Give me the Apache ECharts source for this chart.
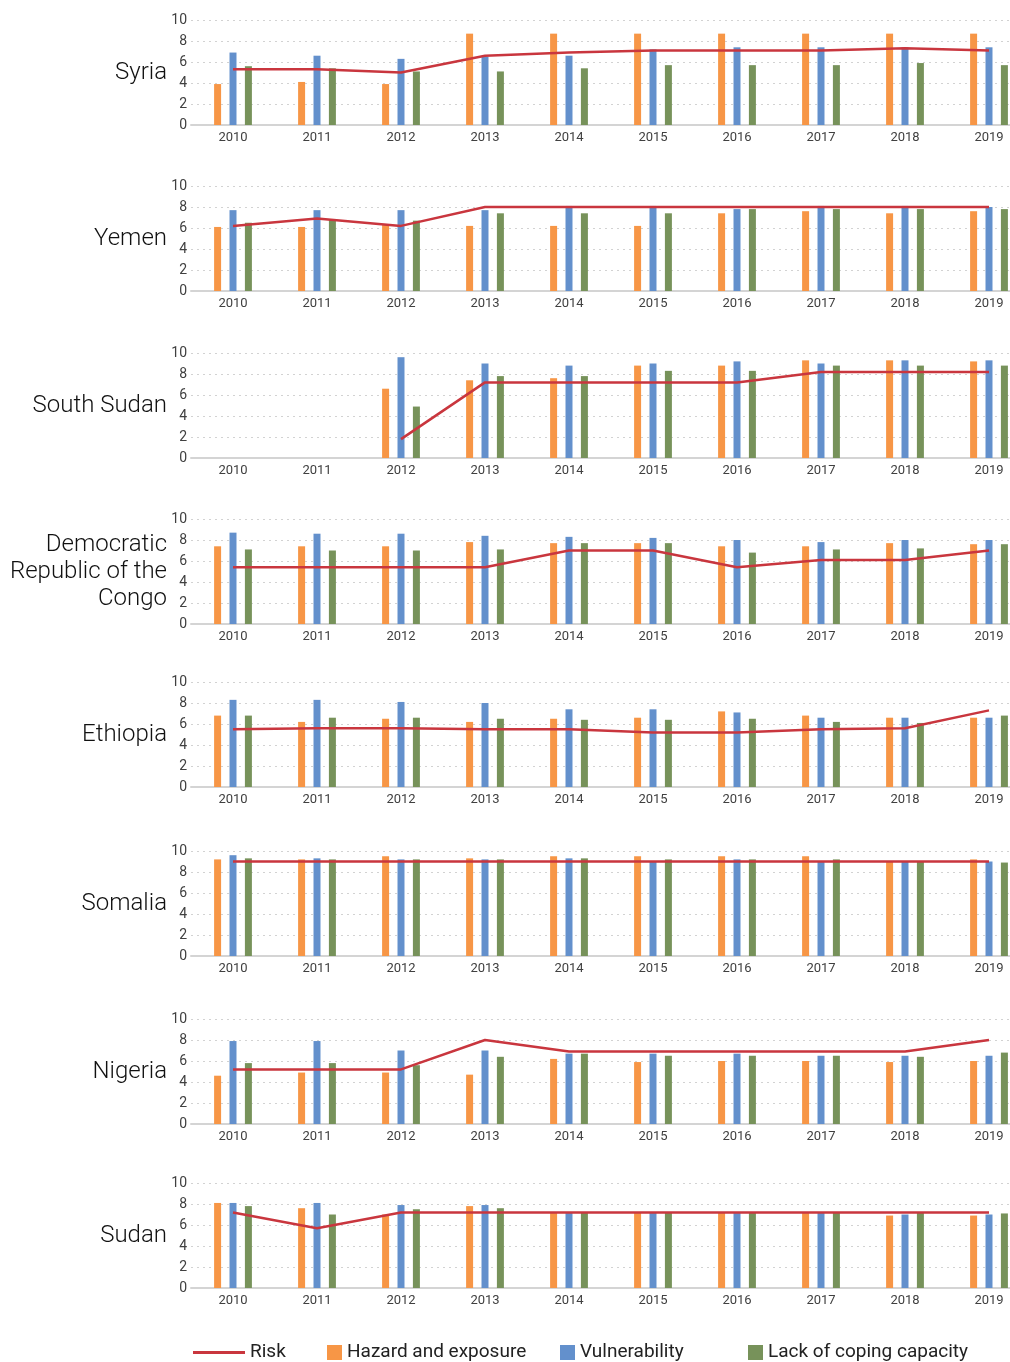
<!DOCTYPE html>
<html>
<head>
<meta charset="utf-8">
<script src="https://cdn.jsdelivr.net/npm/echarts@6/dist/echarts.min.js"></script>
<style>
html,body{margin:0;padding:0;background:#fff;}
#chart{width:1010px;height:1362px;}
</style>
</head>
<body>
<div id="chart"></div>
<script>
const years = ['2010','2011','2012','2013','2014','2015','2016','2017','2018','2019'];
const yTicks = [0, 2, 4, 6, 8, 10];
const countries = ['Syria', 'Yemen', 'South Sudan', 'Democratic\nRepublic of the\nCongo', 'Ethiopia', 'Somalia', 'Nigeria', 'Sudan'];
const seriesNames = ['Risk', 'Hazard and exposure', 'Vulnerability', 'Lack of coping capacity'];

const syriaRisk   = [5.3,5.3,5.0,6.6,6.9,7.1,7.1,7.1,7.3,7.1];
const syriaHazard = [3.9,4.1,3.9,8.7,8.7,8.7,8.7,8.7,8.7,8.7];
const syriaVuln   = [6.9,6.6,6.3,6.5,6.6,7.2,7.4,7.4,7.4,7.4];
const syriaLack   = [5.6,5.4,5.1,5.1,5.4,5.7,5.7,5.7,5.9,5.7];

const yemenRisk   = [6.2,6.9,6.2,8.0,8.0,8.0,8.0,8.0,8.0,8.0];
const yemenHazard = [6.1,6.1,6.3,6.2,6.2,6.2,7.4,7.6,7.4,7.6];
const yemenVuln   = [7.7,7.7,7.7,7.7,8.1,8.1,7.8,8.1,8.1,8.0];
const yemenLack   = [6.5,6.8,6.7,7.4,7.4,7.4,7.8,7.8,7.8,7.8];

const ssudanRisk   = [null,null,1.8,7.2,7.2,7.2,7.2,8.2,8.2,8.2];
const ssudanHazard = [null,null,6.6,7.4,7.6,8.8,8.8,9.3,9.3,9.2];
const ssudanVuln   = [null,null,9.6,9.0,8.8,9.0,9.2,9.0,9.3,9.3];
const ssudanLack   = [null,null,4.9,7.8,7.8,8.3,8.3,8.8,8.8,8.8];

const drcRisk   = [5.4,5.4,5.4,5.4,7.0,7.0,5.4,6.1,6.1,7.0];
const drcHazard = [7.4,7.4,7.4,7.8,7.7,7.7,7.4,7.4,7.7,7.6];
const drcVuln   = [8.7,8.6,8.6,8.4,8.3,8.2,8.0,7.8,8.0,8.0];
const drcLack   = [7.1,7.0,7.0,7.1,7.7,7.7,6.8,7.1,7.2,7.6];

const ethiopiaRisk   = [5.5,5.6,5.6,5.5,5.5,5.2,5.2,5.5,5.6,7.3];
const ethiopiaHazard = [6.8,6.2,6.5,6.2,6.5,6.6,7.2,6.8,6.6,6.6];
const ethiopiaVuln   = [8.3,8.3,8.1,8.0,7.4,7.4,7.1,6.6,6.6,6.6];
const ethiopiaLack   = [6.8,6.6,6.6,6.5,6.4,6.4,6.5,6.2,6.1,6.8];

const somaliaRisk   = [9.0,9.0,9.0,9.0,9.0,9.0,9.0,9.0,9.0,9.0];
const somaliaHazard = [9.2,9.2,9.5,9.3,9.5,9.5,9.5,9.5,9.0,9.2];
const somaliaVuln   = [9.6,9.3,9.2,9.2,9.3,9.0,9.2,9.0,9.0,9.0];
const somaliaLack   = [9.3,9.2,9.2,9.2,9.3,9.2,9.2,9.2,9.0,8.9];

const nigeriaRisk   = [5.2,5.2,5.2,8.0,6.9,6.9,6.9,6.9,6.9,8.0];
const nigeriaHazard = [4.6,4.9,4.9,4.7,6.2,5.9,6.0,6.0,5.9,6.0];
const nigeriaVuln   = [7.9,7.9,7.0,7.0,6.7,6.7,6.7,6.5,6.5,6.5];
const nigeriaLack   = [5.8,5.8,5.6,6.4,6.7,6.5,6.5,6.5,6.4,6.8];

const sudanRisk   = [7.2,5.7,7.2,7.2,7.2,7.2,7.2,7.2,7.2,7.2];
const sudanHazard = [8.1,7.6,7.0,7.8,7.2,7.2,7.2,7.2,6.9,6.9];
const sudanVuln   = [8.1,8.1,7.9,7.9,7.2,7.2,7.2,7.2,7.0,7.0];
const sudanLack   = [7.8,7.0,7.5,7.6,7.2,7.2,7.2,7.2,7.2,7.1];

const panels = [
  [syriaRisk, syriaHazard, syriaVuln, syriaLack],
  [yemenRisk, yemenHazard, yemenVuln, yemenLack],
  [ssudanRisk, ssudanHazard, ssudanVuln, ssudanLack],
  [drcRisk, drcHazard, drcVuln, drcLack],
  [ethiopiaRisk, ethiopiaHazard, ethiopiaVuln, ethiopiaLack],
  [somaliaRisk, somaliaHazard, somaliaVuln, somaliaLack],
  [nigeriaRisk, nigeriaHazard, nigeriaVuln, nigeriaLack],
  [sudanRisk, sudanHazard, sudanVuln, sudanLack]
];

const COLORS = {risk:'#C9363E', hazard:'#F79646', vuln:'#6390CC', lack:'#77925A'};
const gridTops = [20, 186, 353, 519, 682, 851, 1019, 1183];
const gridH = 105;
const FONT = 'Roboto, "Noto Sans", sans-serif';

const grid = [], xAxis = [], yAxis = [], series = [], graphic = [];
panels.forEach((p, i) => {
  grid.push({left: 191, top: gridTops[i], width: 840, height: gridH, containLabel: false, outerBoundsMode: 'none'});
  xAxis.push({
    type: 'category', gridIndex: i, data: years,
    axisTick: {show: false},
    axisLine: {lineStyle: {color: '#d4d4d4', width: 2}},
    axisLabel: {color: '#404040', fontSize: 13, margin: 6, fontFamily: FONT, interval: 0}
  });
  yAxis.push({
    type: 'value', gridIndex: i, min: yTicks[0], max: yTicks[yTicks.length-1], interval: 2,
    axisLine: {show: false}, axisTick: {show: false},
    axisLabel: {color: '#404040', fontSize: 14, margin: 4, fontFamily: FONT},
    splitLine: {lineStyle: {color: '#d2d2d2', type: [2, 4], width: 1}}
  });
  const barCommon = {type: 'bar', xAxisIndex: i, yAxisIndex: i, barWidth: 7, barGap: '120%'};
  series.push(Object.assign({name: seriesNames[1], data: p[1], itemStyle: {color: COLORS.hazard}}, barCommon));
  series.push(Object.assign({name: seriesNames[2], data: p[2], itemStyle: {color: COLORS.vuln}}, barCommon));
  series.push(Object.assign({name: seriesNames[3], data: p[3], itemStyle: {color: COLORS.lack}}, barCommon));
  series.push({
    name: seriesNames[0], type: 'line', xAxisIndex: i, yAxisIndex: i, data: p[0],
    showSymbol: false, symbol: 'none', z: 5,
    lineStyle: {color: COLORS.risk, width: 2.5}, itemStyle: {color: COLORS.risk}
  });
  graphic.push({
    type: 'text', x: 167, y: gridTops[i] + gridH / 2,
    style: {
      text: countries[i], align: 'right', verticalAlign: 'middle',
      fontSize: 24, lineHeight: 27, fontFamily: FONT, fontWeight: 300, fill: '#111'
    }
  });
});

function legendItem(name, left, w, h) {
  return {
    data: [name], left: left, top: 1343, icon: 'rect', itemWidth: w, itemHeight: h,
    selectedMode: false, padding: 0,
    textStyle: {fontSize: 19, color: '#222', fontFamily: FONT}
  };
}

const option = {
  animation: false,
  backgroundColor: '#ffffff',
  grid, xAxis, yAxis, series, graphic,
  legend: [
    legendItem('Risk', 193, 52, 3),
    legendItem('Hazard and exposure', 327, 15, 15),
    legendItem('Vulnerability', 560, 15, 15),
    legendItem('Lack of coping capacity', 748, 15, 15)
  ]
};

const chart = echarts.init(document.getElementById('chart'), null, {renderer: 'canvas'});
chart.setOption(option);
</script>
</body>
</html>
